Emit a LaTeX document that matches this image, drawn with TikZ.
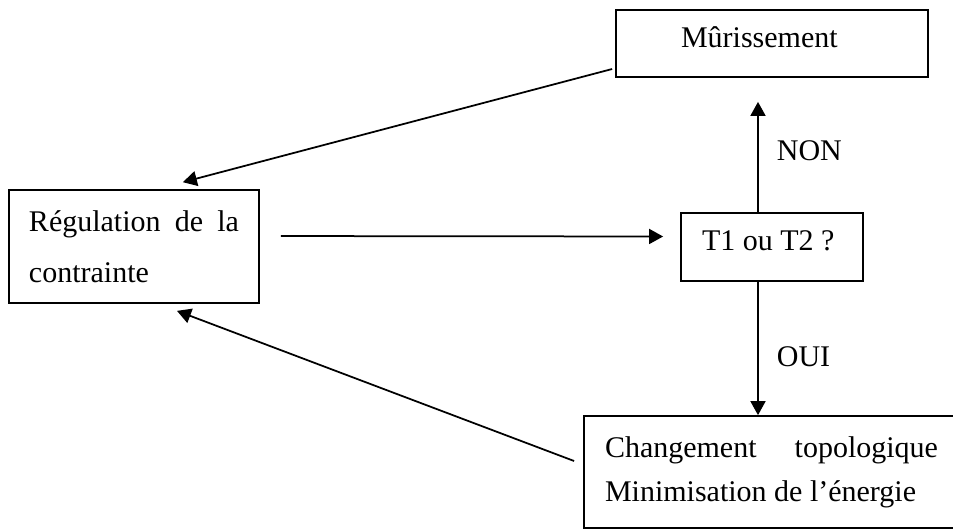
\documentclass[tikz,border=0pt]{standalone}
\usepackage{fontspec}
\setmainfont{Liberation Serif}
\usetikzlibrary{arrows.meta}

\newcommand{\espacesnat}{\spaceskip=0pt\relax\xspaceskip=0pt\relax}

\tikzset{
  boite/.style={shape=rectangle,draw=black,line width=0.7pt,align=flush left,font=\fontsize{12}{14.4}\selectfont},
  fleche/.style={-{Triangle[length=5.6pt,width=6pt]},line width=0.7pt},
  etiq/.style={right=7.2pt,inner sep=0pt,font=\fontsize{12}{14.4}\selectfont},
}

\begin{document}
\begin{tikzpicture}[x=0.4pt,y=-0.4pt]
\useasboundingbox (0,0) rectangle (953,529);
\node[boite,text width=84pt,inner xsep=8pt,minimum height=45.2pt,font=\fontsize{12}{20.4}\selectfont] (R) at (134,246.5) {\espacesnat\makebox[84pt][s]{Régulation de la}\\contrainte};
\node[boite,text width=72.8pt,inner xsep=26pt,minimum height=26.8pt,text depth=5pt] (M) at (772,43.5) {Mûrissement};
\node[boite,text width=56pt,inner xsep=8.4pt,minimum height=27.2pt,text depth=5pt] (T) at (772,247) {\espacesnat T1 ou T2 ?};
\node[boite,text width=133.2pt,inner xsep=8.4pt,minimum height=44.8pt,font=\fontsize{12}{17.6}\selectfont] (C) at (771.5,472) {\espacesnat\makebox[133.2pt][s]{Changement topologique}\\Minimisation de l’énergie};

\draw[fleche,shorten <=8.4pt,shorten >=6.8pt] ([yshift=4.2pt]R.east) -- ([yshift=4.2pt]T.west);
\draw[fleche,shorten >=9.6pt] ([xshift=-5.6pt]T.north) -- node[etiq,pos=0.456] {NON} ([xshift=-5.6pt]M.south);
\draw[fleche] ([xshift=-5.6pt]T.south) -- node[etiq,pos=0.563] {OUI} ([xshift=-5.4pt]C.north);
\draw[fleche,shorten >=10.9pt] ([xshift=-1.2pt,yshift=-10.2pt]M.west) -- ([xshift=9pt]R.north);
\draw[fleche,shorten >=7.9pt] ([xshift=-3.6pt,yshift=4.4pt]C.west) -- ([xshift=9.8pt]R.south);
\end{tikzpicture}
\end{document}
